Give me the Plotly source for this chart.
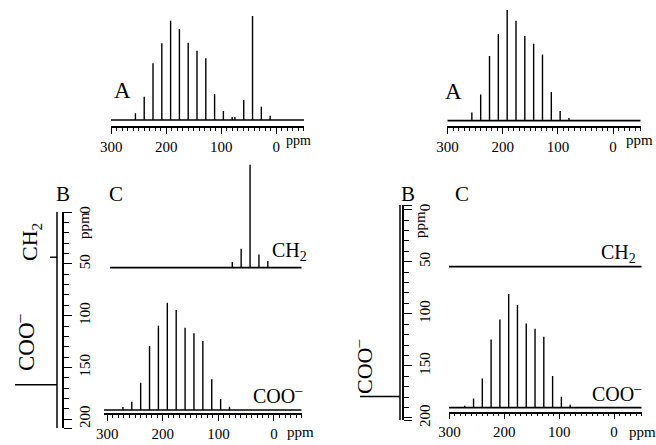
import plotly.graph_objects as go

W, H = 656, 445

# ---------------- data (ppm positions and intensities) ----------------
coo_ppm = [272, 256, 240, 224, 208, 192, 176, 160, 144, 128, 112, 96, 80]
ch2_ppm = [75, 59, 43, 27, 11]

# Panel A, left (both carbons)
a1_coo = [0, 6.7, 23.3, 56.7, 76.7, 99.3, 91, 77.3, 69.3, 61.7, 26, 9, 3]
a1_ch2 = [3, 20, 104, 13.3, 4.3]
# Panel A, right (COO- only)
a2_coo = [0, 8.3, 26.3, 64.7, 86.7, 111.7, 100, 84.7, 77, 66.3, 28.7, 9.7, 2.7]
# Panel C, left: slices
c1_ch2 = [5.6, 19, 103, 13.3, 6.6]
c1_coo = [3, 8.3, 27.3, 64, 84.3, 107.3, 100, 82.3, 76.7, 69, 30.7, 11, 3.3]
# Panel C, right: slices
c2_coo = [2, 9.3, 29.3, 68.3, 88.3, 113.7, 102.7, 84.3, 79, 71, 31.7, 11, 3]
# Panel B projections (isotropic ppm, intensity)
b1_ppm = [43.5, 166.8]
b1_int = [7, 42]
b2_ppm = [179.5]
b2_int = [40]

ruler_major = [300, 250, 200, 150, 100, 50, 0, -50]
ruler_text = ["300", "", "200", "", "100", "", "0", ""]
ruler_minor = list(range(-50, 301, 10))

FONT = "Liberation Serif"


def fx(px):
    return px / W


def fy(py):
    return 1 - py / H


def sticks(ppm, inten):
    xs, ys = [], []
    for p, v in zip(ppm, inten):
        xs += [p, p, None]
        ys += [0, v, None]
    return xs, ys


def hsticks(ppm, inten):
    xs, ys = [], []
    for p, v in zip(ppm, inten):
        xs += [0, v, None]
        ys += [p, p, None]
    return xs, ys


fig = go.Figure()
LW = 1.4


def add_spec(xa, ya, ppm_lists, int_lists, lo, hi):
    fig.add_trace(go.Scatter(x=[lo, hi], y=[0, 0], mode="lines",
                             line=dict(color="black", width=1.7),
                             xaxis=xa, yaxis=ya, hoverinfo="skip"))
    for ppm, inten in zip(ppm_lists, int_lists):
        xs, ys = sticks(ppm, inten)
        fig.add_trace(go.Scatter(x=xs, y=ys, mode="lines",
                                 line=dict(color="black", width=LW),
                                 xaxis=xa, yaxis=ya, hoverinfo="skip"))


add_spec("x", "y", [coo_ppm, ch2_ppm], [a1_coo, a1_ch2], 300.4, -50.6)
add_spec("x2", "y2", [coo_ppm], [a2_coo], 300.5, -50)
add_spec("x5", "y5", [ch2_ppm], [c1_ch2], 295, -50)
add_spec("x6", "y6", [coo_ppm], [c1_coo], 306, -50)
add_spec("x7", "y7", [], [], 300.7, -50.3)
add_spec("x8", "y8", [coo_ppm], [c2_coo], 300.7, -50.3)

# B projections (vertical spectra, peaks pointing left)
for xa, ya, ppm, inten, top, bot in [("x3", "y3", b1_ppm, b1_int, -0.5, 208.6),
                                     ("x4", "y4", b2_ppm, b2_int, -4.5, 202)]:
    fig.add_trace(go.Scatter(x=[0, 0], y=[top, bot], mode="lines",
                             line=dict(color="black", width=1.5),
                             xaxis=xa, yaxis=ya, hoverinfo="skip"))
    xs, ys = hsticks(ppm, inten)
    fig.add_trace(go.Scatter(x=xs, y=ys, mode="lines",
                             line=dict(color="black", width=LW),
                             xaxis=xa, yaxis=ya, hoverinfo="skip"))

tickfont = dict(family=FONT, size=15, color="black")


def ruler(dom, rng, anchor):
    return dict(domain=[fx(dom[0]), fx(dom[1])], range=rng, anchor=anchor,
                showline=True, linecolor="black", linewidth=1.5, automargin=False,
                ticks="outside", tickmode="array", tickvals=ruler_major,
                ticktext=ruler_text, ticklen=6, tickwidth=1, tickcolor="black",
                minor=dict(tickmode="array", tickvals=ruler_minor, ticks="outside",
                           ticklen=3, tickwidth=1, tickcolor="black"),
                showgrid=False, zeroline=False, tickfont=tickfont, fixedrange=True)


def hidden_x(dom, rng, anchor):
    return dict(domain=[fx(dom[0]), fx(dom[1])], range=rng, anchor=anchor,
                visible=False, fixedrange=True, automargin=False)


def hidden_y(dom, rng, anchor):
    return dict(domain=[fy(dom[0]), fy(dom[1])], range=rng, anchor=anchor,
                visible=False, fixedrange=True, automargin=False)


def b_axis(dom, rng, anchor, vals, text):
    return dict(domain=[fy(dom[0]), fy(dom[1])], range=rng, anchor=anchor,
                side="right", showline=True, linecolor="black", linewidth=1.5,
                automargin=False,
                ticks="outside", tickmode="array", tickvals=vals, ticktext=text,
                ticklen=8, tickwidth=1, tickcolor="black", tickangle=-90,
                minor=dict(tickmode="array", tickvals=list(range(10, 201, 10)),
                           ticks="outside", ticklen=5, tickwidth=1, tickcolor="black"),
                showgrid=False, zeroline=False, tickfont=tickfont, fixedrange=True)


layout = dict(
    template="none",
    width=W, height=H, margin=dict(l=0, r=0, t=0, b=0, pad=0), autosize=False,
    paper_bgcolor="white", plot_bgcolor="white", showlegend=False,
    xaxis=ruler((111, 304), [300.4, -50.6], "y"),
    yaxis=hidden_y((126, 10), [-6, 110], "x"),
    xaxis2=ruler((447.3, 640.7), [300.5, -50], "y2"),
    yaxis2=hidden_y((126, 10), [-5.3, 110.7], "x2"),
    xaxis3=hidden_x((10, 62), [47, -5], "y3"),
    yaxis3=b_axis((428, 211.7), [208.6, -0.5], "x3",
                  [0, 50, 100, 150, 200, 208.6], ["0", "50", "100", "150", "200", ""]),
    xaxis4=hidden_x((350, 402), [50, -2], "y4"),
    yaxis4=b_axis((420, 205), [202, -4.5], "x4",
                  [-4.5, 0, 50, 100, 150, 200, 202], ["", "0", "50", "100", "150", "200", ""]),
    xaxis5=hidden_x((104, 301.7), [306, -50], "y5"),
    yaxis5=hidden_y((272, 158), [-4.3, 109.7], "x5"),
    xaxis6=ruler((104, 301.7), [306, -50], "y6"),
    yaxis6=hidden_y((413.3, 290), [-3.3, 120], "x6"),
    xaxis7=hidden_x((449, 641.7), [300.7, -50.3], "y7"),
    yaxis7=hidden_y((272, 200), [-5.3, 66.7], "x7"),
    xaxis8=ruler((449, 641.7), [300.7, -50.3], "y8"),
    yaxis8=hidden_y((411.7, 280), [-4, 127.7], "x8"),
)
fig.update_layout(**layout)

anns = []


def ann(text, px, py, size, angle=0, xanchor="center"):
    anns.append(dict(text=text, x=fx(px), y=fy(py), xref="paper", yref="paper",
                     showarrow=False, textangle=angle, xanchor=xanchor, yanchor="middle",
                     font=dict(family=FONT, size=size, color="black")))


ann("A", 122, 90, 23)
ann("A", 454, 91, 23)
ann("B", 63, 194, 21)
ann("C", 116, 194, 21)
ann("B", 408, 194, 21)
ann("C", 462, 194, 21)
ann("ppm", 284, 140, 14, xanchor="left")
ann("ppm", 624, 140, 15, xanchor="left")
ann("ppm", 285, 432, 15, xanchor="left")
ann("ppm", 627, 432, 15, xanchor="left")
ann("ppm", 84, 226, 15, angle=-90)
ann("ppm", 420, 225, 15, angle=-90)
ann("CH<sub>2</sub>", 289, 251, 20)
ann("COO<sup>–</sup>", 278, 395, 20)
ann("CH<sub>2</sub>", 618, 253, 20)
ann("COO<sup>–</sup>", 617, 393, 20)
ann("CH<sub>2</sub>", 31, 242, 22, angle=-90)
ann("COO<sup>–</sup>", 24, 342, 23, angle=-90)
ann("COO<sup>–</sup>", 363, 367, 22, angle=-90)
fig.update_layout(annotations=anns)

fig.write_html("out.html", config={"displayModeBar": False},
               post_script="document.body.style.margin='0px';document.body.style.overflow='hidden';")
